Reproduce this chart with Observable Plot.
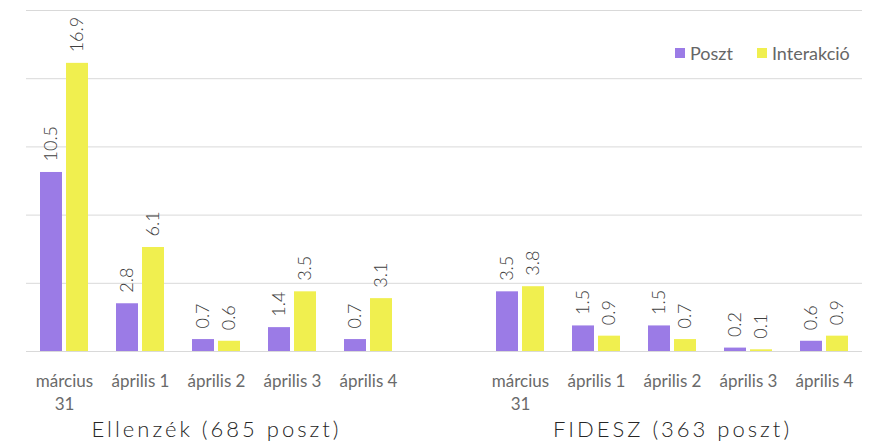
<!DOCTYPE html>
<html>
<head>
<meta charset="utf-8">
<script src="https://cdn.jsdelivr.net/npm/d3@7"></script>
<script src="https://cdn.jsdelivr.net/npm/@observablehq/plot@0.6"></script>
<style>
  body { margin: 0; background: #fff; }
  #wrap { position: relative; width: 877px; height: 446px; font-family: Lato, sans-serif; }
  #legend { position: absolute; top: 43px; left: 675px; display: flex; align-items: center; font-size: 18px; line-height: 20px; color: #666; }
  #legend .item { display: flex; align-items: center; margin-right: 24px; }
  #legend .sw { width: 10px; height: 10px; margin-right: 5px; }
</style>
</head>
<body>
<div id="wrap"><div id="legend"></div></div>
<script>
// ---- data ----
const groups = ["Ellenzék (685 poszt)", "FIDESZ (363 poszt)"];
const groupKeys = ["E", "F"];
const dates = ["március\n31", "április 1", "április 2", "április 3", "április 4"];
const series = ["Poszt", "Interakció"];
const colors = ["#9b7be6", "#f0ef4f"];
const ellenzekPoszt = [10.5, 2.8, 0.7, 1.4, 0.7];
const ellenzekInterakcio = [16.9, 6.1, 0.6, 3.5, 3.1];
const fideszPoszt = [3.5, 1.5, 1.5, 0.2, 0.6];
const fideszInterakcio = [3.8, 0.9, 0.7, 0.1, 0.9];
const yTicks = [0, 4, 8, 12, 16, 20];

// ---- build table ----
const values = {
  E: {Poszt: ellenzekPoszt, "Interakció": ellenzekInterakcio},
  F: {Poszt: fideszPoszt, "Interakció": fideszInterakcio}
};
const slots = [...dates.map(d => "E|" + d), "gap", ...dates.map(d => "F|" + d)];
const rows = [];
groupKeys.forEach(g => dates.forEach((d, i) => series.forEach(s => {
  rows.push({slot: g + "|" + d, series: s, value: values[g][s][i]});
})));
const dateRows = [];
groupKeys.forEach(g => dates.forEach(d => dateRows.push({slot: g + "|" + d, label: d})));
const groupRows = groups.map((name, i) => ({slot: groupKeys[i] + "|" + dates[2], label: name}));

const posztRows = rows.filter(r => r.series === series[0]);
const interRows = rows.filter(r => r.series === series[1]);

const chart = Plot.plot({
  width: 877,
  height: 446,
  marginTop: 10,
  marginBottom: 95,
  marginLeft: 26,
  marginRight: 15,
  x: {domain: slots, padding: 0, axis: null},
  y: {domain: [0, 20], axis: null},
  color: {domain: series, range: colors},
  style: {fontFamily: "Lato, sans-serif", background: "#fff"},
  marks: [
    Plot.ruleY(yTicks, {stroke: "#d9d9d9", strokeWidth: 1}),
    Plot.barY(posztRows, {x: "slot", y: "value", fill: "series", insetLeft: 14, insetRight: 40}),
    Plot.barY(interRows, {x: "slot", y: "value", fill: "series", insetLeft: 40, insetRight: 14}),
    Plot.text(posztRows, {x: "slot", y: "value", text: d => d.value.toFixed(1), rotate: -90, textAnchor: "start", dx: -13, dy: -11, fontSize: 18, fontWeight: 300, fill: "#404040"}),
    Plot.text(interRows, {x: "slot", y: "value", text: d => d.value.toFixed(1), rotate: -90, textAnchor: "start", dx: 13, dy: -11, fontSize: 18, fontWeight: 300, fill: "#404040"}),
    Plot.text(dateRows, {x: "slot", text: "label", frameAnchor: "bottom", lineAnchor: "top", dy: 19, fontSize: 17, lineHeight: 1.35, fill: "#6a6a6a"}),
    Plot.text(groupRows, {x: "slot", text: "label", frameAnchor: "bottom", lineAnchor: "middle", dy: 78, fontSize: 22, fontWeight: 300, fill: "#262626"})
  ]
});
document.getElementById("wrap").prepend(chart);

d3.select(chart).selectAll("text").each(function() {
  if (groups.includes(this.textContent)) d3.select(this).attr("letter-spacing", "3px");
});

// legend
const legend = d3.select("#legend");
series.forEach((s, i) => {
  const it = legend.append("div").attr("class", "item");
  it.append("div").attr("class", "sw").style("background", colors[i]);
  it.append("span").text(s);
});
</script>
</body>
</html>
